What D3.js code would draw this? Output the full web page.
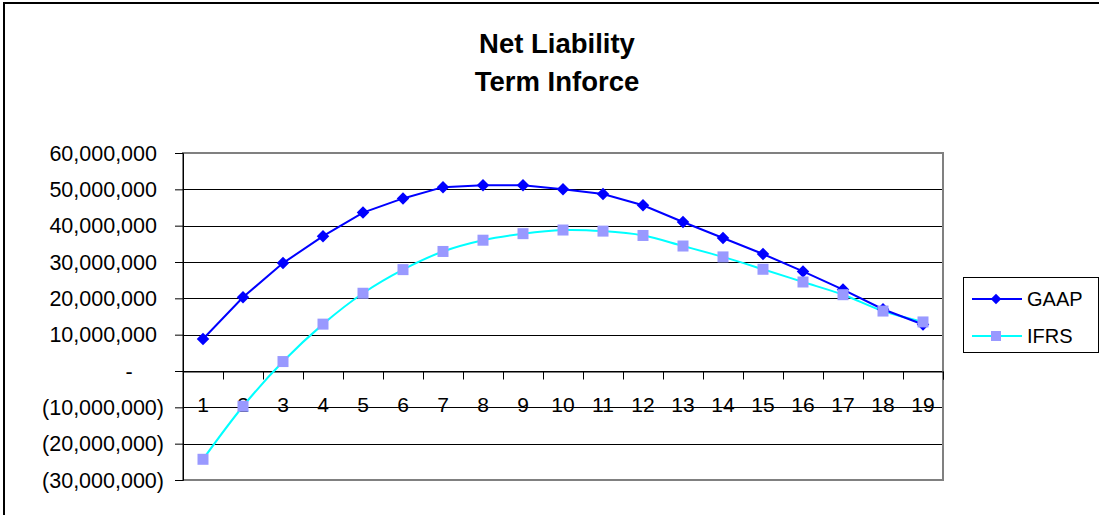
<!DOCTYPE html>
<html>
<head>
<meta charset="utf-8">
<script src="https://cdn.jsdelivr.net/npm/d3@7"></script>
<style>
  body { margin: 0; background: #fff; }
  text { font-family: "Liberation Sans", Arial, sans-serif; fill: #000; }
</style>
</head>
<body>
<div id="main"></div>
<script>
var years = [1, 2, 3, 4, 5, 6, 7, 8, 9, 10, 11, 12, 13, 14, 15, 16, 17, 18, 19];
var gaap = [8.8, 20.3, 29.7, 37.1, 43.6, 47.5, 50.6, 51.1, 51.1, 50.0, 48.7, 45.6, 41.0, 36.6, 32.2, 27.4, 22.4, 17.0, 12.8];
var ifrs = [-24.3, -9.7, 2.6, 12.9, 21.4, 27.9, 32.9, 36.0, 37.8, 38.8, 38.5, 37.3, 34.4, 31.4, 28.0, 24.5, 21.0, 16.5, 13.5];
var yTicks = [60, 50, 40, 30, 20, 10, 0, -10, -20, -30];
var titleLines = ['Net Liability', 'Term Inforce'];
var seriesNames = ['GAAP', 'IFRS'];

var margins = { top: 153, bottom: 35, left: 183, right: 156 };
var totalW = 1099, totalH = 515;
var width = totalW - margins.left - margins.right, height = totalH - margins.top - margins.bottom;

var x = d3.scaleBand().domain(years).range([0, width]);
var y = d3.scaleLinear().domain([-30, 60]).range([height, 0]);

var fmt = function(v) {
    if (v === 0) return '-';
    var s = d3.format(',')(Math.abs(v) * 1000000);
    return v < 0 ? '(' + s + ')' : s;
};

var svg = d3.select('#main').append('svg')
    .attr('width', totalW).attr('height', totalH);

// chart area border
svg.append('rect')
    .attr('x', 4).attr('y', 3)
    .attr('width', 1300).attr('height', 700)
    .style('fill', 'none').style('stroke', '#000').style('stroke-width', 2);

svg.selectAll('.title').data(titleLines)
    .enter().append('text')
    .attr('class', 'title')
    .attr('x', 557)
    .attr('y', function(d, i) { return 53 + i * 38; })
    .style('text-anchor', 'middle')
    .style('font-size', '27.5px')
    .style('font-weight', 'bold')
    .text(function(d) { return d; });

var chart = svg.append('g')
    .attr('transform', 'translate(' + margins.left + ',' + margins.top + ')');

// gridlines
chart.selectAll('.grid').data(yTicks)
    .enter().append('line')
    .attr('class', 'grid')
    .attr('x1', 0).attr('x2', width)
    .attr('y1', function(d) { return Math.round(y(d)) + 0.5; })
    .attr('y2', function(d) { return Math.round(y(d)) + 0.5; })
    .style('stroke', '#000').style('stroke-width', 1);

// plot border
chart.append('rect')
    .attr('x', 0).attr('y', 0)
    .attr('width', width).attr('height', height)
    .style('fill', 'none').style('stroke', '#808080').style('stroke-width', 2);

// y axis
var yAxis = d3.axisLeft(y).tickValues(yTicks).tickSize(8).tickFormat('');
var yG = chart.append('g').call(yAxis);
yG.select('.domain').style('stroke', '#000');
yG.selectAll('.tick line').style('stroke', '#000');

chart.selectAll('.ylab').data(yTicks)
    .enter().append('text')
    .attr('class', 'ylab')
    .attr('x', function(d) { return d < 0 ? -19 : (d === 0 ? -54 : -26); })
    .attr('y', function(d) { return y(d); })
    .attr('dy', '0.36em')
    .style('text-anchor', function(d) { return d === 0 ? 'middle' : 'end'; })
    .style('font-size', '21.5px')
    .text(fmt);

// x axis at zero
var xAxis = d3.axisBottom(d3.scaleLinear().domain([0, years.length]).range([0, width]))
    .tickValues(d3.range(0, years.length + 1)).tickSize(8).tickFormat('');
var xG = chart.append('g')
    .attr('transform', 'translate(0,' + (Math.round(y(0)) + 0.5) + ')')
    .call(xAxis);
xG.select('.domain').style('stroke', '#000');
xG.selectAll('.tick line').style('stroke', '#000');

chart.selectAll('.xlab').data(years)
    .enter().append('text')
    .attr('class', 'xlab')
    .attr('x', function(d) { return x(d) + x.bandwidth() / 2; })
    .attr('y', y(0) + 41)
    .style('text-anchor', 'middle')
    .style('font-size', '21px')
    .text(function(d) { return d; });

var cx = function(d, i) { return x(years[i]) + x.bandwidth() / 2; };

// IFRS series (smoothed)
var ifrsLine = d3.line().x(cx).y(function(d) { return y(d); }).curve(d3.curveCatmullRom.alpha(0.5));
chart.append('path').datum(ifrs)
    .attr('d', ifrsLine)
    .style('fill', 'none').style('stroke', '#00ffff').style('stroke-width', 2);

// GAAP series
var gaapLine = d3.line().x(cx).y(function(d) { return y(d); });
chart.append('path').datum(gaap)
    .attr('d', gaapLine)
    .style('fill', 'none').style('stroke', '#0000ff').style('stroke-width', 2);

var diamond = d3.symbol().type(d3.symbolDiamond2).size(100);

chart.selectAll('.gaap').data(gaap)
    .enter().append('path')
    .attr('class', 'gaap')
    .attr('d', diamond)
    .attr('transform', function(d, i) { return 'translate(' + cx(d, i) + ',' + y(d) + ')'; })
    .style('fill', '#0000ff');

chart.selectAll('.ifrs').data(ifrs)
    .enter().append('rect')
    .attr('class', 'ifrs')
    .attr('x', function(d, i) { return cx(d, i) - 5.5; })
    .attr('y', function(d) { return y(d) - 5.5; })
    .attr('width', 11).attr('height', 11)
    .style('fill', '#9999ff');

// legend
var legend = svg.append('g').attr('transform', 'translate(963,277)');
legend.append('rect')
    .attr('x', 0.5).attr('y', 0.5)
    .attr('width', 135).attr('height', 75)
    .style('fill', '#fff').style('stroke', '#000').style('stroke-width', 1);

var lColors = ['#0000ff', '#00ffff'];
seriesNames.forEach(function(name, i) {
    var ly = 22 + i * 37;
    legend.append('line')
        .attr('x1', 9).attr('x2', 59)
        .attr('y1', ly).attr('y2', ly)
        .style('stroke', lColors[i]).style('stroke-width', 2);
    if (i === 0) {
        legend.append('path')
            .attr('d', d3.symbol().type(d3.symbolDiamond2).size(70))
            .attr('transform', 'translate(33,' + ly + ')')
            .style('fill', '#0000ff');
    } else {
        legend.append('rect')
            .attr('x', 28).attr('y', ly - 5)
            .attr('width', 10).attr('height', 10)
            .style('fill', '#9999ff');
    }
    legend.append('text')
        .attr('x', 64).attr('y', ly)
        .attr('dy', '0.36em')
        .style('font-size', '20px')
        .text(name);
});
</script>
</body>
</html>
